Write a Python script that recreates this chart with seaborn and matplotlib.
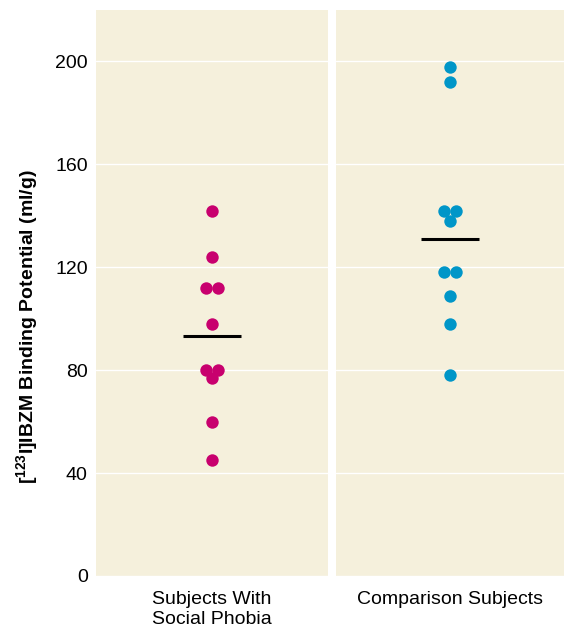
import numpy as np
import pandas as pd
import matplotlib
matplotlib.use("Agg")
import matplotlib.pyplot as plt
import seaborn as sns

# Group labels and individual binding potential values (ml/g)
groups = ["Subjects With\nSocial Phobia", "Comparison Subjects"]
phobia_values = [142, 124, 112, 112, 98, 80, 80, 77, 60, 45]
comparison_values = [198, 192, 142, 142, 138, 118, 118, 109, 98, 78]
group_means = [93.3, 131.0]
y_ticks = [0, 40, 80, 120, 160, 200]

colors = ["#C8006E", "#0096C8"]
panel_bg = "#F5F0DC"
dot_step = 0.052  # horizontal spacing for tied values, in category-axis units

sns.set_theme(style="white")
plt.rcParams["font.family"] = ["Liberation Sans", "DejaVu Sans"]
plt.rcParams["mathtext.fontset"] = "custom"
plt.rcParams["mathtext.rm"] = "Liberation Sans"
plt.rcParams["mathtext.bf"] = "Liberation Sans:bold"
for key in ["text.color", "axes.labelcolor", "xtick.color", "ytick.color"]:
    plt.rcParams[key] = "black"

df = pd.DataFrame({
    "group": [groups[0]] * len(phobia_values) + [groups[1]] * len(comparison_values),
    "value": phobia_values + comparison_values,
})


def dot_offsets(values):
    """Spread tied values symmetrically around the centre line."""
    values = np.asarray(values, dtype=float)
    offs = np.zeros(len(values))
    for v in np.unique(values):
        idx = np.where(values == v)[0]
        n = len(idx)
        offs[idx] = (np.arange(n) - (n - 1) / 2) * dot_step
    return offs


df["xpos"] = 0.0
for grp in groups:
    mask = df["group"] == grp
    df.loc[mask, "xpos"] = dot_offsets(df.loc[mask, "value"])

fig = plt.figure(figsize=(5.64, 6.33), dpi=100)
ax_left = fig.add_axes([96 / 564, 1 - 576 / 633, 232 / 564, 566 / 633])
ax_right = fig.add_axes([336 / 564, 1 - 576 / 633, 228 / 564, 566 / 633], sharey=ax_left)
axes = [ax_left, ax_right]

for ax, grp, col, mean in zip(axes, groups, colors, group_means):
    ax.set_facecolor(panel_bg)
    sub = df[df["group"] == grp]
    sns.scatterplot(data=sub, x="xpos", y="value", color=col, s=80,
                    linewidth=0, ax=ax, zorder=3, legend=False)
    ax.hlines(mean, -0.127, 0.127, color="black", linewidth=2.2, zorder=4)
    ax.set_xlim(-0.5, 0.5)
    ax.set_ylim(0, 220)
    ax.set_yticks(y_ticks)
    ax.yaxis.grid(True, color="white", linewidth=1.0)
    ax.xaxis.grid(False)
    ax.set_axisbelow(True)
    for s in ax.spines.values():
        s.set_visible(False)
    ax.tick_params(axis="y", length=0, labelsize=14, pad=6)
    ax.tick_params(axis="x", length=0, labelsize=14, pad=11)
    ax.set_xlabel("")
    ax.set_ylabel("")
    ax.set_xticks([0])
    ax.set_xticklabels([grp], fontsize=14)

ax_right.tick_params(axis="y", labelleft=False)
ax_left.set_ylabel(r"[$^{\mathbf{123}}$I]IBZM Binding Potential (ml/g)",
                   fontsize=14, fontweight="bold")
ax_left.yaxis.set_label_coords(-0.235, 0.44)

fig.savefig("out.png", dpi=100, facecolor="white")
